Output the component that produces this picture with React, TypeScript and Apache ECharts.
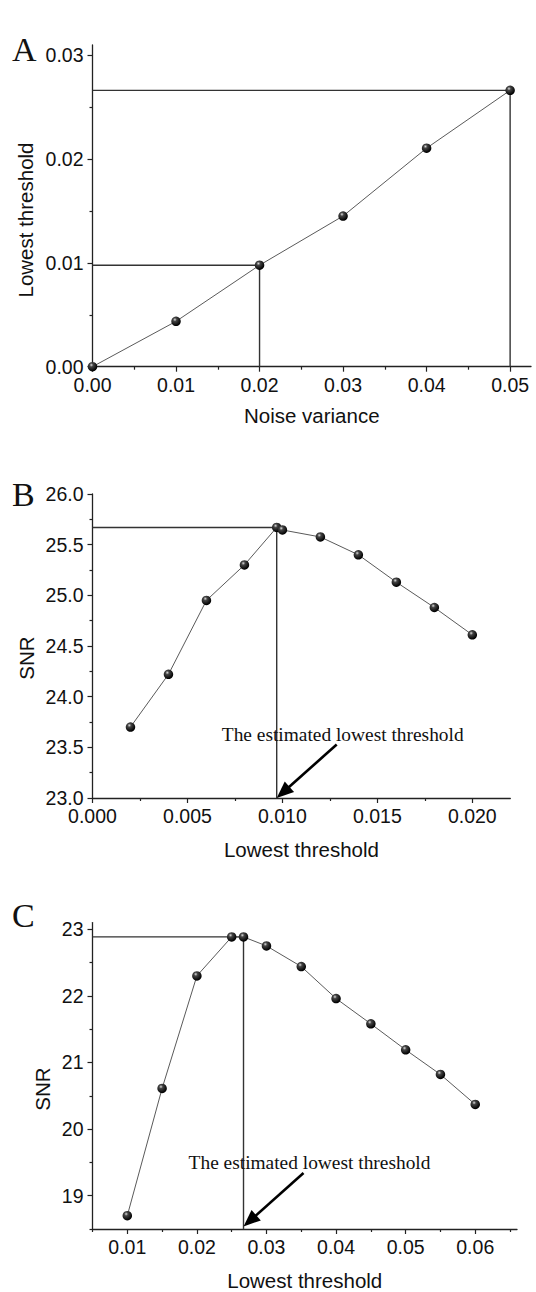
import React, { useEffect, useRef } from "react";
import * as echarts from "echarts";

// Panel A
const noiseVariance = [0, 0.01, 0.02, 0.03, 0.04, 0.05];
const lowestThresholdA = [0, 0.00437, 0.00978, 0.01452, 0.02106, 0.02663];
const ticksAx = [0, 0.01, 0.02, 0.03, 0.04, 0.05];
const minorAx = [0.005, 0.015, 0.025, 0.035, 0.045];
const ticksAy = [0, 0.01, 0.02, 0.03];
const minorAy = [0.005, 0.015, 0.025];

// Panel B
const thresholdsB = [0.002, 0.004, 0.006, 0.008, 0.0097, 0.01, 0.012, 0.014, 0.016, 0.018, 0.02];
const snrB = [23.7, 24.22, 24.95, 25.3, 25.67, 25.645, 25.576, 25.4, 25.13, 24.88, 24.61];
const estimatedB = 4; // index of estimated lowest threshold
const ticksBx = [0, 0.005, 0.01, 0.015, 0.02];
const minorBx = [0.0025, 0.0075, 0.0125, 0.0175];
const ticksBy = [23, 23.5, 24, 24.5, 25, 25.5, 26];
const minorBy = [23.25, 23.75, 24.25, 24.75, 25.25, 25.75];

// Panel C
const thresholdsC = [0.01, 0.015, 0.02, 0.025, 0.0267, 0.03, 0.035, 0.04, 0.045, 0.05, 0.055, 0.06];
const snrC = [18.7, 20.61, 22.3, 22.885, 22.885, 22.75, 22.44, 21.96, 21.58, 21.19, 20.82, 20.37];
const estimatedC = 4;
const ticksCx = [0.01, 0.02, 0.03, 0.04, 0.05, 0.06];
const minorCx = [0.005, 0.015, 0.025, 0.035, 0.045, 0.055, 0.065];
const ticksCy = [19, 20, 21, 22, 23];
const minorCy = [18.5, 19.5, 20.5, 21.5, 22.5];

const annotationText = "The estimated lowest threshold";

const SANS = "'Liberation Sans', Arial, sans-serif";
const SERIF = "'Liberation Serif', 'Times New Roman', serif";
const AXIS_COLOR = "#222";
const TICK_FONT = 19.5;
const TITLE_FONT = 20.5;

function ball() {
  return new echarts.graphic.RadialGradient(0.38, 0.32, 0.65, [
    { offset: 0, color: "#dcdcdc" },
    { offset: 0.3, color: "#444" },
    { offset: 1, color: "#000" },
  ]);
}

function mainX(gridIndex: number, min: number, max: number, ticks: number[], digits: number, name: string, nameGap: number) {
  return {
    type: "value",
    gridIndex,
    position: "bottom",
    min,
    max,
    name,
    nameLocation: "middle",
    nameGap,
    nameTextStyle: { fontFamily: SANS, fontSize: TITLE_FONT, color: "#111" },
    axisLine: { show: true, onZero: false, lineStyle: { color: AXIS_COLOR, width: 1.3 } },
    axisTick: { show: true, customValues: ticks, length: 5, lineStyle: { color: AXIS_COLOR, width: 1.2 } },
    axisLabel: {
      customValues: ticks,
      formatter: (v: number) => v.toFixed(digits),
      fontFamily: SANS,
      fontSize: TICK_FONT,
      color: "#111",
      margin: 8,
    },
    splitLine: { show: false },
  };
}
function minorX(gridIndex: number, min: number, max: number, ticks: number[]) {
  return {
    type: "value",
    gridIndex,
    position: "bottom",
    offset: 0,
    min,
    max,
    axisLine: { show: false, onZero: false },
    axisTick: { show: true, customValues: ticks, length: 3, lineStyle: { color: AXIS_COLOR, width: 1.2 } },
    axisLabel: { show: false },
    splitLine: { show: false },
  };
}
function mainY(gridIndex: number, min: number, max: number, ticks: number[], digits: number) {
  return {
    type: "value",
    gridIndex,
    position: "left",
    min,
    max,
    axisLine: { show: true, onZero: false, lineStyle: { color: AXIS_COLOR, width: 1.3 } },
    axisTick: { show: true, customValues: ticks, length: 5, lineStyle: { color: AXIS_COLOR, width: 1.2 } },
    axisLabel: {
      customValues: ticks,
      formatter: (v: number) => v.toFixed(digits),
      fontFamily: SANS,
      fontSize: TICK_FONT,
      color: "#111",
      margin: 9,
    },
    splitLine: { show: false },
  };
}
function minorY(gridIndex: number, min: number, max: number, ticks: number[]) {
  return {
    type: "value",
    gridIndex,
    position: "left",
    offset: 0,
    min,
    max,
    axisLine: { show: false, onZero: false },
    axisTick: { show: true, customValues: ticks, length: 3, lineStyle: { color: AXIS_COLOR, width: 1.2 } },
    axisLabel: { show: false },
    splitLine: { show: false },
  };
}

function dataSeries(xs: number[], ys: number[], axis: number) {
  return {
    type: "line",
    xAxisIndex: axis,
    yAxisIndex: axis,
    data: xs.map((x, i) => [x, ys[i]]),
    symbol: "circle",
    symbolSize: 9.5,
    showSymbol: true,
    lineStyle: { color: "#5a5a5a", width: 1 },
    itemStyle: { color: ball(), borderWidth: 0 },
    z: 5,
  };
}
function refSeries(points: number[][], axis: number) {
  return {
    type: "line",
    xAxisIndex: axis,
    yAxisIndex: axis,
    data: points,
    symbol: "none",
    lineStyle: { color: "#333", width: 1.4 },
    z: 3,
  };
}

export default function App() {
  const ref = useRef<HTMLDivElement>(null);
  useEffect(() => {
    if (!ref.current) return;
    const chart = echarts.init(ref.current, null, { renderer: "svg" });
    const aMin = 0, aMax = 0.0525, aYMin = 0, aYMax = 0.031;
    const bMin = 0, bMax = 0.022, bYMin = 23, bYMax = 26;
    const cMin = 0.005, cMax = 0.066, cYMin = 18.5, cYMax = 23.1;

    chart.setOption({
      animation: false,
      backgroundColor: "#fff",
      grid: [
        { left: 92.5, top: 45, width: 438.5, height: 321.7 },
        { left: 92.5, top: 494, width: 417.8, height: 304 },
        { left: 92.5, top: 922.6, width: 424.5, height: 308.4 },
      ],
      xAxis: [
        mainX(0, aMin, aMax, ticksAx, 2, "Noise variance", 38),
        minorX(0, aMin, aMax, minorAx),
        mainX(1, bMin, bMax, ticksBx, 3, "Lowest threshold", 41),
        minorX(1, bMin, bMax, minorBx),
        mainX(2, cMin, cMax, ticksCx, 2, "Lowest threshold", 41),
        minorX(2, cMin, cMax, minorCx),
      ],
      yAxis: [
        mainY(0, aYMin, aYMax, ticksAy, 2),
        minorY(0, aYMin, aYMax, minorAy),
        mainY(1, bYMin, bYMax, ticksBy, 1),
        minorY(1, bYMin, bYMax, minorBy),
        mainY(2, cYMin, cYMax, ticksCy, 0),
        minorY(2, cYMin, cYMax, minorCy),
      ],
      series: [
        refSeries([[aMin, lowestThresholdA[2]], [noiseVariance[2], lowestThresholdA[2]], [noiseVariance[2], aYMin]], 0),
        refSeries([[aMin, lowestThresholdA[5]], [noiseVariance[5], lowestThresholdA[5]], [noiseVariance[5], aYMin]], 0),
        dataSeries(noiseVariance, lowestThresholdA, 0),
        refSeries([[bMin, snrB[estimatedB]], [thresholdsB[estimatedB], snrB[estimatedB]], [thresholdsB[estimatedB], bYMin]], 2),
        dataSeries(thresholdsB, snrB, 2),
        refSeries([[cMin, snrC[estimatedC]], [thresholdsC[estimatedC], snrC[estimatedC]], [thresholdsC[estimatedC], cYMin]], 4),
        dataSeries(thresholdsC, snrC, 4),
      ],
    });

    const arrow = (tip: number[]) => {
      const tail = [tip[0] + 60, tip[1] - 53.5];
      const dx = tip[0] - tail[0], dy = tip[1] - tail[1];
      const len = Math.sqrt(dx * dx + dy * dy);
      const ux = dx / len, uy = dy / len;
      const headLen = 17, headHalf = 7;
      const base = [tip[0] - ux * headLen, tip[1] - uy * headLen];
      const px = -uy, py = ux;
      return [
        {
          type: "line",
          shape: { x1: tail[0], y1: tail[1], x2: base[0] + ux * 2, y2: base[1] + uy * 2 },
          style: { stroke: "#000", lineWidth: 2.6 },
          z: 10,
        },
        {
          type: "polygon",
          shape: {
            points: [
              [tip[0], tip[1]],
              [base[0] + px * headHalf, base[1] + py * headHalf],
              [base[0] - px * headHalf, base[1] - py * headHalf],
            ],
          },
          style: { fill: "#000" },
          z: 10,
        },
        {
          type: "text",
          x: tip[0] + 66,
          y: tip[1] - 64,
          style: {
            text: annotationText,
            font: `19.4px ${SERIF}`,
            fill: "#111",
            align: "center",
            verticalAlign: "middle",
          },
          z: 11,
        },
      ];
    };

    const tipB = chart.convertToPixel({ xAxisIndex: 2, yAxisIndex: 2 }, [thresholdsB[estimatedB], bYMin]) as number[];
    const tipC = chart.convertToPixel({ xAxisIndex: 4, yAxisIndex: 4 }, [thresholdsC[estimatedC], cYMin]) as number[];

    const letter = (t: string, y: number) => ({
      type: "text",
      x: 12,
      y,
      style: { text: t, font: `34px ${SERIF}`, fill: "#111", align: "left", verticalAlign: "alphabetic" },
    });
    const yTitle = (t: string, x: number, y: number) => ({
      type: "text",
      x,
      y,
      rotation: Math.PI / 2,
      style: { text: t, font: `${TITLE_FONT}px ${SANS}`, fill: "#111", align: "center", verticalAlign: "middle" },
    });

    chart.setOption({
      graphic: [
        letter("A", 32),
        letter("B", 477),
        letter("C", 898),
        yTitle("Lowest threshold", 25, 220),
        yTitle("SNR", 26.5, 658),
        yTitle("SNR", 42, 1089),
        ...arrow(tipB),
        ...arrow([tipC[0], tipC[1] - 2.5]),
      ],
    });

    return () => chart.dispose();
  }, []);

  return (
    <div
      ref={ref}
      style={{ position: "fixed", left: 0, top: 0, width: 536, height: 1292, background: "#fff" }}
    />
  );
}
